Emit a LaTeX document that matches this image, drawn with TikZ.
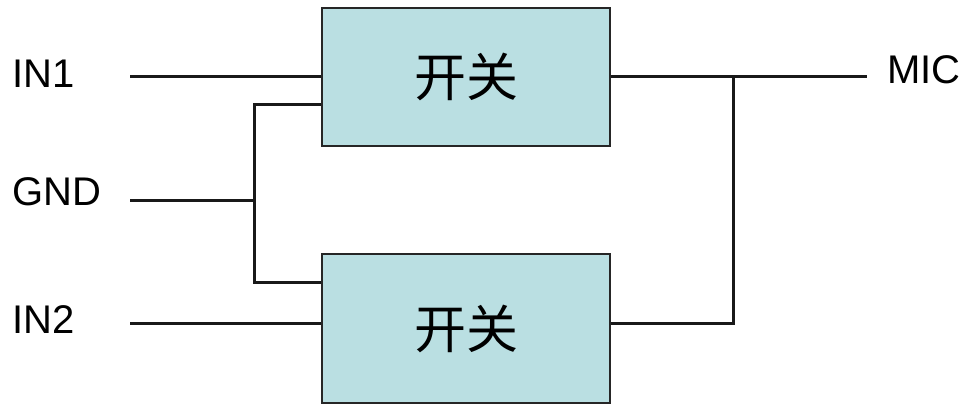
\documentclass[tikz,border=0pt]{standalone}
\usepackage{fontspec}
\setmainfont{Liberation Sans}
\newfontfamily\cjk{Noto Sans CJK SC}
\begin{document}
\begin{tikzpicture}[x=1pt,y=-1pt,
  wire/.style={line width=3pt,black!90},
  swbox/.style={draw=black!85,line width=2.2pt,fill=boxfill,inner sep=0pt,
     font=\cjk\fontsize{52}{56}\selectfont},
  lab/.style={anchor=west,inner sep=0pt,font=\fontsize{40}{44}\selectfont}]
\definecolor{boxfill}{RGB}{186,223,226}
\useasboundingbox[fill=white] (0,0) rectangle (965,406);
\node[swbox,minimum width=288pt,minimum height=138pt] (b1) at (466,77) {开关};
\node[swbox,minimum width=288pt,minimum height=149pt] (b2) at (466,328.5) {开关};
\node[lab] (in1) at (12,74) {IN1};
\node[lab] (gnd) at (12,192) {GND};
\node[lab] (in2) at (12,320) {IN2};
\node[lab] (mic) at (887,70) {MIC};
\coordinate (c1) at (130,77);
\coordinate (cg) at (130,200);
\coordinate (c2) at (130,323);
\coordinate (g1) at (254,105);
\coordinate (g2) at (254,282);
\coordinate (cm) at (867,77);
\coordinate (r1) at (733,77);
\coordinate (r2) at (733,323);
\draw[wire] (c1) -- (b1.west);
\draw[wire] (c2) -- (c2 -| b2.west);
\draw[wire] (cg) -- (cg -| g1);
\draw[wire] (g1 -| b1.west) -- (g1) -- (g2) -- (g2 -| b2.west);
\draw[wire] (b1.east) -- (cm);
\draw[wire] (r2 -| b2.east) -- (r2) -- (r1);
\end{tikzpicture}
\end{document}
